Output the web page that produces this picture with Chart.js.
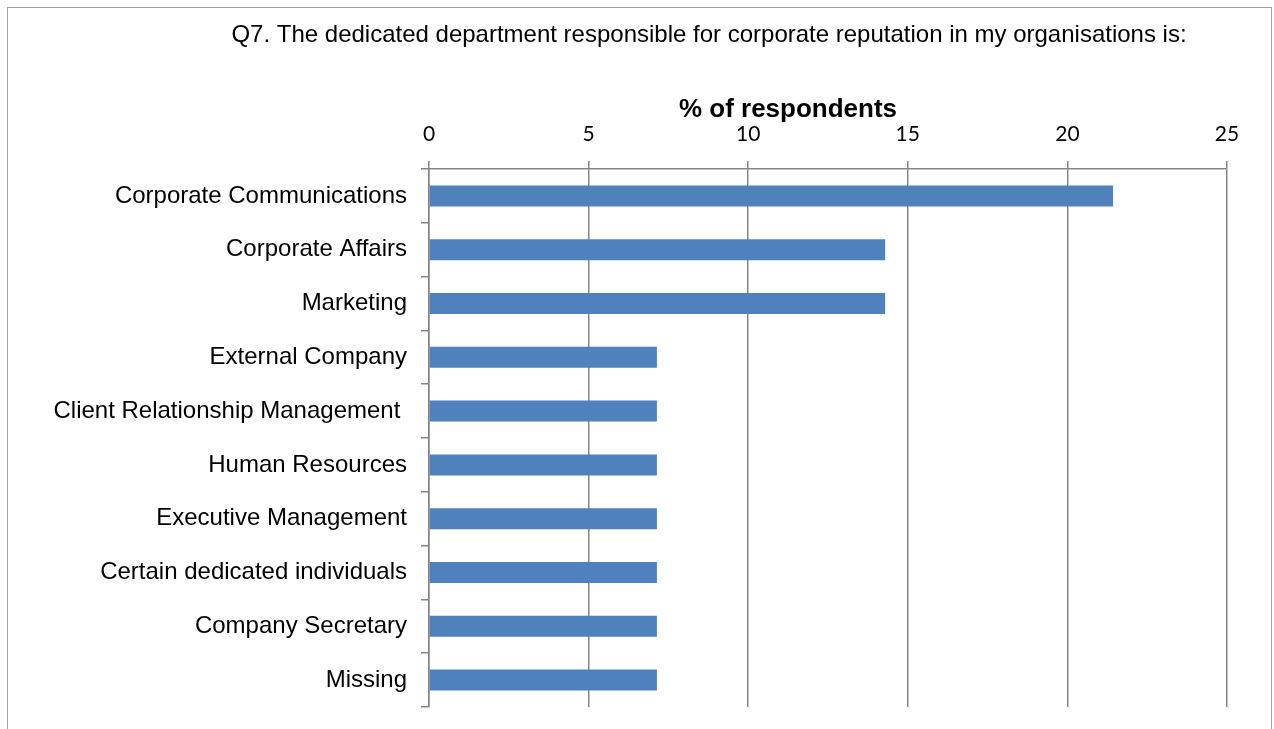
<!DOCTYPE html>
<html>
<head>
    <title>Corporate reputation department</title>
    <script src="https://cdn.jsdelivr.net/npm/chart.js"></script>
    <style>
        body { margin: 0; background: #fff; overflow: hidden; }
        #frame {
            position: absolute; left: 7px; top: 7px;
            width: 1265px; height: 800px;
            box-sizing: border-box;
            border: 1px solid #a0a0a0;
            pointer-events: none;
        }
        #chart { position: absolute; left: 0; top: 0; }
    </style>
</head>
<body>
    <div id="frame"></div>
    <canvas id="chart" width="1274" height="729"></canvas>

<script>
const chartTitle = 'Q7. The dedicated department responsible for corporate reputation in my organisations is:';
const axisTitle = '% of respondents';

const departments = [
    'Corporate Communications',
    'Corporate Affairs',
    'Marketing',
    'External Company',
    'Client Relationship Management ',
    'Human Resources',
    'Executive Management',
    'Certain dedicated individuals',
    'Company Secretary',
    'Missing'
];
// percent of respondents (14 answers)
const respondents = [21.43, 14.29, 14.29, 7.14, 7.14, 7.14, 7.14, 7.14, 7.14, 7.14];
const xTicks = [0, 5, 10, 15, 20, 25];

const labelFont = "'Liberation Sans', Arial, sans-serif";
const gridGray = '#858585';

// headline and axis caption drawn straight on the canvas
const headings = {
    id: 'headings',
    afterDraw(chart) {
        const ctx = chart.ctx;
        ctx.save();
        ctx.fillStyle = '#000';
        ctx.textAlign = 'center';
        ctx.textBaseline = 'alphabetic';
        ctx.font = '24px ' + labelFont;
        ctx.fillText(chartTitle, 709, 42);
        ctx.font = 'bold 26px ' + labelFont;
        ctx.fillText(axisTitle, 788, 117);
        ctx.restore();
    }
};

new Chart(document.getElementById('chart'), {
    type: 'bar',
    data: {
        labels: departments,
        datasets: [{
            data: respondents,
            backgroundColor: '#4f81bd',
            borderWidth: 0,
            categoryPercentage: 1,
            barPercentage: 0.39
        }]
    },
    options: {
        indexAxis: 'y',
        responsive: false,
        animation: false,
        layout: { padding: { left: 0, top: 0, right: 47, bottom: 22 } },
        plugins: {
            legend: { display: false },
            tooltip: { enabled: false }
        },
        scales: {
            x: {
                position: 'top',
                min: 0,
                max: 25,
                afterBuildTicks: s => { s.ticks = xTicks.map(v => ({ value: v })); },
                afterFit: s => { s.height = 169; },
                ticks: {
                    color: '#000',
                    padding: 14,
                    font: { family: 'Lato', size: 21 }
                },
                grid: { color: gridGray, lineWidth: 1.5, tickLength: 8 },
                border: { color: gridGray, width: 1.5 }
            },
            y: {
                afterFit: s => {
                    s.width = 429;
                    s.paddingTop = 0;
                    s.paddingBottom = 0;
                },
                ticks: {
                    color: '#000',
                    padding: 14,
                    font: { family: labelFont, size: 24 }
                },
                grid: {
                    drawOnChartArea: false,
                    color: gridGray,
                    lineWidth: 1.5,
                    tickLength: 8
                },
                border: { color: gridGray, width: 1.5 }
            }
        }
    },
    plugins: [headings]
});
</script>
</body>
</html>
